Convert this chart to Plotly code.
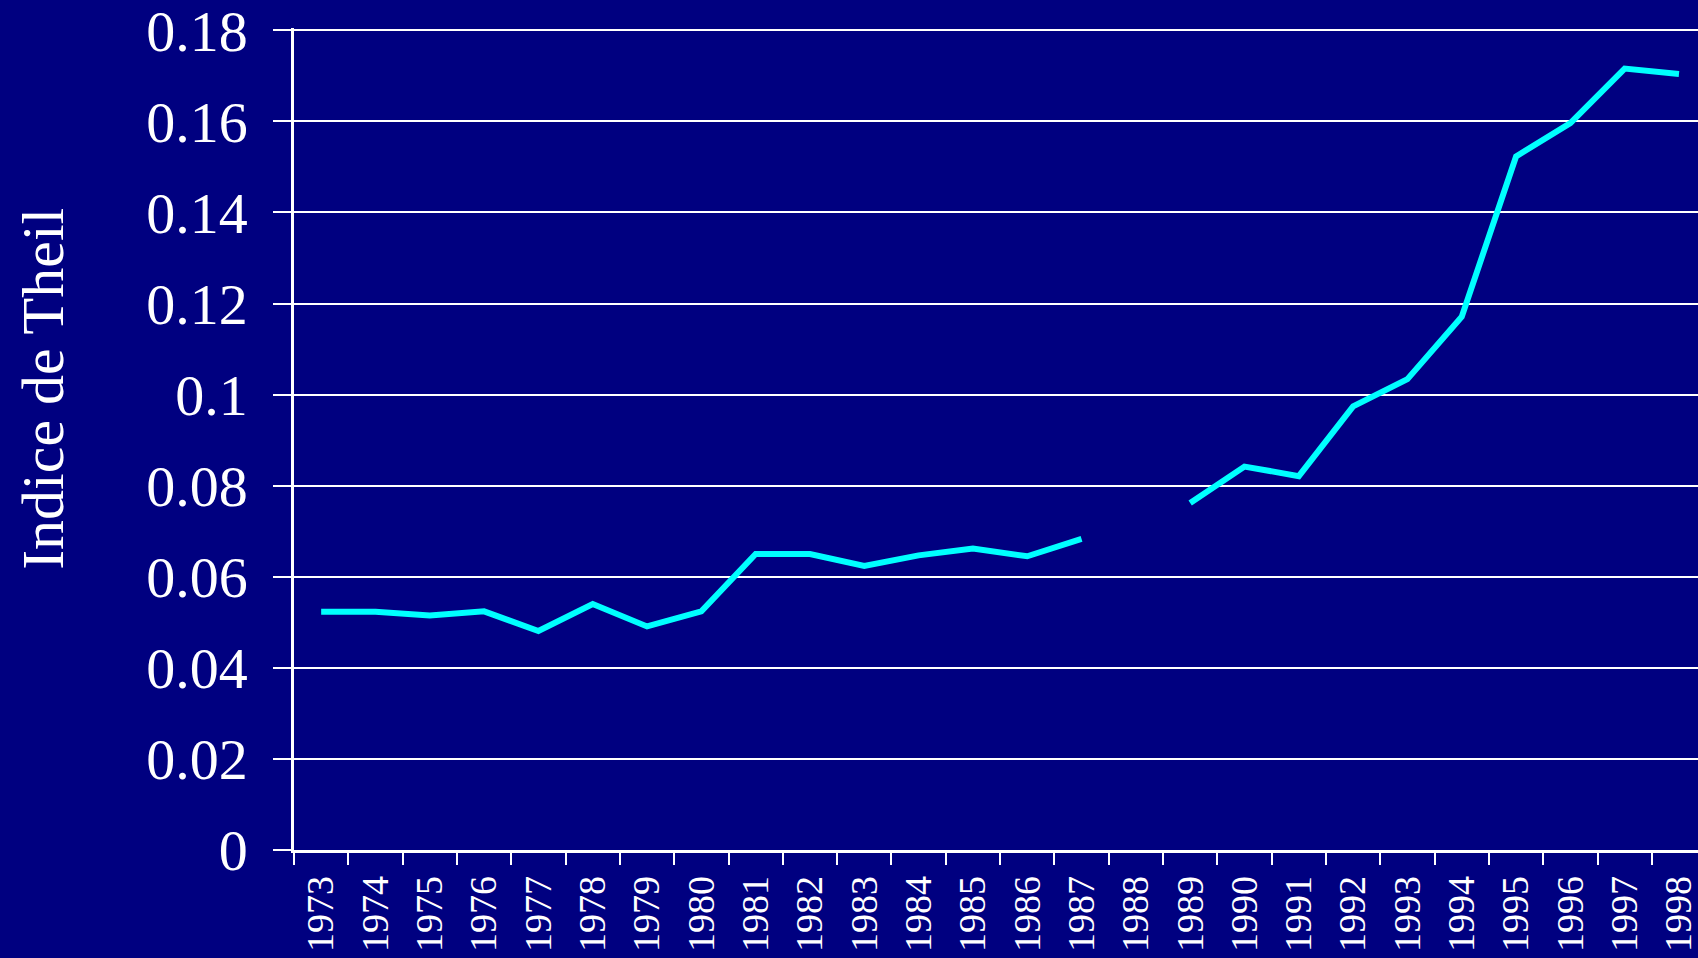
import plotly.graph_objects as go

years = [str(y) for y in range(1973, 1999)]
theil = [0.0523, 0.0523, 0.0515, 0.0524, 0.0481, 0.0540, 0.0491, 0.0524,
         0.0650, 0.0650, 0.0624, 0.0647, 0.0662, 0.0645, 0.0683,
         None,
         0.0762, 0.0842, 0.0821, 0.0974, 0.1034, 0.1171, 0.1523, 0.1596, 0.1716, 0.1704]
y_ticks = [0, 0.02, 0.04, 0.06, 0.08, 0.1, 0.12, 0.14, 0.16, 0.18]
y_labels = ["0", "0.02", "0.04", "0.06", "0.08", "0.1", "0.12", "0.14", "0.16", "0.18"]

navy = "#000080"
font = "Liberation Serif, Times New Roman, serif"

fig = go.Figure()
fig.add_trace(go.Scatter(x=years, y=theil, mode="lines", connectgaps=False,
                         line=dict(color="#00FFFF", width=6)))

fig.update_layout(
    width=1698, height=958,
    paper_bgcolor=navy, plot_bgcolor=navy,
    margin=dict(l=294, r=0, t=28, b=108),
    showlegend=False,
    font=dict(family=font, color="white"),
    annotations=[dict(text="Indice de Theil", textangle=-90, xref="paper", yref="paper",
                      x=0, y=0.561, xshift=-251, xanchor="center", yanchor="middle",
                      showarrow=False, font=dict(size=60, color="white", family=font))],
)
fig.update_xaxes(type="category", range=[-0.5, 25.35], showgrid=False,
                 showline=True, linecolor="white", linewidth=2.5,
                 ticks="outside", tickson="boundaries", ticklen=12, tickwidth=2, tickcolor="white",
                 tickangle=-90, tickfont=dict(size=38, color="white", family=font),
                 ticklabelstandoff=8)
fig.update_yaxes(range=[0, 0.1805], tickvals=y_ticks, ticktext=y_labels,
                 showgrid=True, gridcolor="white", gridwidth=2, zeroline=False,
                 showline=True, linecolor="white", linewidth=2.5,
                 ticks="outside", ticklen=18, tickwidth=2, tickcolor="white",
                 tickfont=dict(size=58, color="white", family=font),
                 ticklabelstandoff=14, ticklabeloverflow="allow")

fig.write_html("out.html", config={"displayModeBar": False},
               post_script="document.body.style.margin='0';document.body.style.overflow='hidden';")
